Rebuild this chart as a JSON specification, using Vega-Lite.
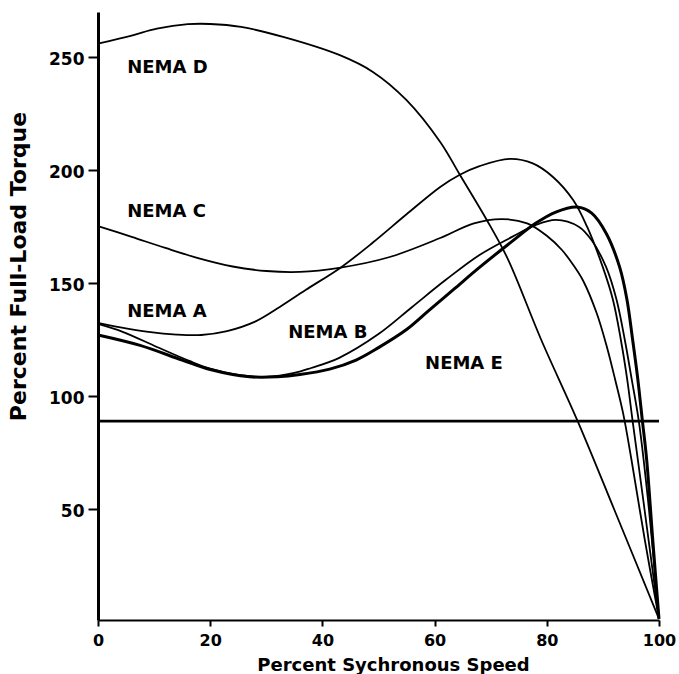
{
  "$schema": "https://vega.github.io/schema/vega-lite/v6.json",
  "width": 561,
  "height": 608,
  "autosize": {"type": "none"},
  "padding": {"left": 98, "top": 12, "right": 20, "bottom": 54},
  "background": "white",
  "config": {
    "view": {"stroke": null},
    "font": "DejaVu Sans",
    "axis": {"grid": false, "domainColor": "black", "tickColor": "black", "labelColor": "black", "titleColor": "black", "labelFont": "DejaVu Sans", "titleFont": "DejaVu Sans", "labelFontWeight": "bold", "titleFontWeight": "bold"}
  },
  "datasets": {
    "curves": [
      {"curve": "D", "speed": 0, "torque": 256},
      {"curve": "D", "speed": 6, "torque": 259.6},
      {"curve": "D", "speed": 10.5, "torque": 262.6},
      {"curve": "D", "speed": 16, "torque": 264.6},
      {"curve": "D", "speed": 20, "torque": 264.7},
      {"curve": "D", "speed": 25.5, "torque": 263.4},
      {"curve": "D", "speed": 33, "torque": 259},
      {"curve": "D", "speed": 43, "torque": 251},
      {"curve": "D", "speed": 49, "torque": 243.5},
      {"curve": "D", "speed": 55, "torque": 231},
      {"curve": "D", "speed": 61, "torque": 212.5},
      {"curve": "D", "speed": 64.5, "torque": 198},
      {"curve": "D", "speed": 69.3, "torque": 178},
      {"curve": "D", "speed": 73, "torque": 161},
      {"curve": "D", "speed": 79, "torque": 125},
      {"curve": "D", "speed": 85.5, "torque": 89},
      {"curve": "D", "speed": 92, "torque": 50},
      {"curve": "D", "speed": 100, "torque": 1.5},

      {"curve": "C", "speed": 0, "torque": 175.3},
      {"curve": "C", "speed": 6, "torque": 170.5},
      {"curve": "C", "speed": 12, "torque": 165.6},
      {"curve": "C", "speed": 18, "torque": 161},
      {"curve": "C", "speed": 24, "torque": 157.4},
      {"curve": "C", "speed": 30, "torque": 155.4},
      {"curve": "C", "speed": 36, "torque": 155},
      {"curve": "C", "speed": 43, "torque": 156.8},
      {"curve": "C", "speed": 52, "torque": 161.6},
      {"curve": "C", "speed": 61, "torque": 170},
      {"curve": "C", "speed": 67, "torque": 176.5},
      {"curve": "C", "speed": 72, "torque": 178.4},
      {"curve": "C", "speed": 76.5, "torque": 176.5},
      {"curve": "C", "speed": 80, "torque": 171},
      {"curve": "C", "speed": 82.7, "torque": 164.7},
      {"curve": "C", "speed": 84.6, "torque": 158.5},
      {"curve": "C", "speed": 86.5, "torque": 151},
      {"curve": "C", "speed": 88.9, "torque": 136.7},
      {"curve": "C", "speed": 90.7, "torque": 121.9},
      {"curve": "C", "speed": 92.2, "torque": 107.2},
      {"curve": "C", "speed": 93.6, "torque": 92.5},
      {"curve": "C", "speed": 95.1, "torque": 71.8},
      {"curve": "C", "speed": 97.5, "torque": 36},
      {"curve": "C", "speed": 100, "torque": 1.5},

      {"curve": "A", "speed": 0, "torque": 132.5},
      {"curve": "A", "speed": 4, "torque": 130.5},
      {"curve": "A", "speed": 9, "torque": 128.5},
      {"curve": "A", "speed": 14, "torque": 127.3},
      {"curve": "A", "speed": 18.4, "torque": 127.1},
      {"curve": "A", "speed": 23, "torque": 128.8},
      {"curve": "A", "speed": 28, "torque": 133},
      {"curve": "A", "speed": 32.4, "torque": 139.5},
      {"curve": "A", "speed": 37, "torque": 147},
      {"curve": "A", "speed": 43.3, "torque": 157},
      {"curve": "A", "speed": 49, "torque": 168},
      {"curve": "A", "speed": 55, "torque": 180.5},
      {"curve": "A", "speed": 61, "torque": 192.6},
      {"curve": "A", "speed": 64.5, "torque": 198},
      {"curve": "A", "speed": 68, "torque": 201.8},
      {"curve": "A", "speed": 73.4, "torque": 205},
      {"curve": "A", "speed": 77.5, "torque": 203},
      {"curve": "A", "speed": 81.1, "torque": 197},
      {"curve": "A", "speed": 84.7, "torque": 186.8},
      {"curve": "A", "speed": 87.2, "torque": 174.9},
      {"curve": "A", "speed": 90, "torque": 157},
      {"curve": "A", "speed": 91.8, "torque": 142.6},
      {"curve": "A", "speed": 93.2, "torque": 125},
      {"curve": "A", "speed": 94.3, "torque": 108},
      {"curve": "A", "speed": 95.3, "torque": 89},
      {"curve": "A", "speed": 97.2, "torque": 54},
      {"curve": "A", "speed": 100, "torque": 1.5},

      {"curve": "B", "speed": 0, "torque": 132},
      {"curve": "B", "speed": 4.5, "torque": 128.4},
      {"curve": "B", "speed": 10.5, "torque": 121.8},
      {"curve": "B", "speed": 16.4, "torque": 115.5},
      {"curve": "B", "speed": 20, "torque": 112.2},
      {"curve": "B", "speed": 25, "torque": 109.4},
      {"curve": "B", "speed": 30, "torque": 108.6},
      {"curve": "B", "speed": 35, "torque": 110.3},
      {"curve": "B", "speed": 38, "torque": 112.5},
      {"curve": "B", "speed": 43, "torque": 117},
      {"curve": "B", "speed": 50, "torque": 127.5},
      {"curve": "B", "speed": 56, "torque": 139.5},
      {"curve": "B", "speed": 62, "torque": 151.5},
      {"curve": "B", "speed": 68, "torque": 162.5},
      {"curve": "B", "speed": 73.8, "torque": 170.5},
      {"curve": "B", "speed": 77.9, "torque": 175.6},
      {"curve": "B", "speed": 81.6, "torque": 178},
      {"curve": "B", "speed": 85.7, "torque": 175},
      {"curve": "B", "speed": 88, "torque": 169},
      {"curve": "B", "speed": 90.6, "torque": 157},
      {"curve": "B", "speed": 92.4, "torque": 143},
      {"curve": "B", "speed": 93.9, "torque": 125},
      {"curve": "B", "speed": 95.1, "torque": 108},
      {"curve": "B", "speed": 96.4, "torque": 89},
      {"curve": "B", "speed": 98, "torque": 55},
      {"curve": "B", "speed": 100, "torque": 1.5},

      {"curve": "E", "speed": 0, "torque": 127.1},
      {"curve": "E", "speed": 7.5, "torque": 122.5},
      {"curve": "E", "speed": 15, "torque": 116},
      {"curve": "E", "speed": 20, "torque": 111.8},
      {"curve": "E", "speed": 27, "torque": 108.6},
      {"curve": "E", "speed": 32, "torque": 108.6},
      {"curve": "E", "speed": 36, "torque": 109.6},
      {"curve": "E", "speed": 41.3, "torque": 112},
      {"curve": "E", "speed": 46, "torque": 116},
      {"curve": "E", "speed": 50, "torque": 121.5},
      {"curve": "E", "speed": 55, "torque": 129.5},
      {"curve": "E", "speed": 59, "torque": 138},
      {"curve": "E", "speed": 63.5, "torque": 147.5},
      {"curve": "E", "speed": 68, "torque": 157},
      {"curve": "E", "speed": 73.8, "torque": 168.5},
      {"curve": "E", "speed": 78, "torque": 176.5},
      {"curve": "E", "speed": 81.6, "torque": 181.5},
      {"curve": "E", "speed": 85.4, "torque": 183.7},
      {"curve": "E", "speed": 88, "torque": 181},
      {"curve": "E", "speed": 90.6, "torque": 172},
      {"curve": "E", "speed": 93, "torque": 157},
      {"curve": "E", "speed": 94.3, "torque": 142.6},
      {"curve": "E", "speed": 95.3, "torque": 125},
      {"curve": "E", "speed": 96.2, "torque": 108},
      {"curve": "E", "speed": 97, "torque": 90},
      {"curve": "E", "speed": 97.8, "torque": 72},
      {"curve": "E", "speed": 98.9, "torque": 36},
      {"curve": "E", "speed": 100, "torque": 1.5},

      {"curve": "Ref", "speed": 0, "torque": 89},
      {"curve": "Ref", "speed": 100, "torque": 89}
    ],
    "labels": [
      {"label": "NEMA D", "speed": 5.2, "torque": 243},
      {"label": "NEMA C", "speed": 5.2, "torque": 179.3},
      {"label": "NEMA A", "speed": 5.2, "torque": 135},
      {"label": "NEMA B", "speed": 33.9, "torque": 125.8},
      {"label": "NEMA E", "speed": 58.3, "torque": 112}
    ]
  },
  "encoding": {
    "x": {
      "field": "speed", "type": "quantitative",
      "scale": {"domain": [0, 100], "nice": false, "zero": false},
      "axis": {
        "values": [0, 20, 40, 60, 80, 100],
        "title": "Percent Sychronous Speed",
        "domainWidth": 2, "tickWidth": 2, "tickSize": 6,
        "labelFontSize": 16, "labelPadding": 6, "labelFlush": false,
        "titleFontSize": 18, "titleX": 295, "titleY": 50,
        "titleBaseline": "alphabetic", "titleAlign": "center"
      }
    },
    "y": {
      "field": "torque", "type": "quantitative",
      "scale": {"domain": [1, 270], "nice": false, "zero": false},
      "axis": {
        "values": [50, 100, 150, 200, 250],
        "title": "Percent Full-Load Torque",
        "domainWidth": 3, "tickWidth": 2, "tickSize": 10,
        "labelFontSize": 17, "labelPadding": 4, "labelOffset": 2,
        "titleFontSize": 22, "titleX": -80, "titleY": 254,
        "titleAngle": 270, "titleBaseline": "middle", "titleAlign": "center"
      }
    }
  },
  "layer": [
    {
      "data": {"name": "curves"},
      "transform": [{"filter": "datum.curve !== 'E' && datum.curve !== 'Ref'"}],
      "mark": {"type": "line", "interpolate": "catmull-rom", "color": "black", "strokeWidth": 1.8},
      "encoding": {"detail": {"field": "curve", "type": "nominal"}}
    },
    {
      "data": {"name": "curves"},
      "transform": [{"filter": "datum.curve === 'E'"}],
      "mark": {"type": "line", "interpolate": "catmull-rom", "color": "black", "strokeWidth": 3}
    },
    {
      "data": {"name": "curves"},
      "transform": [{"filter": "datum.curve === 'Ref'"}],
      "mark": {"type": "line", "color": "black", "strokeWidth": 2.6}
    },
    {
      "data": {"name": "labels"},
      "mark": {"type": "text", "align": "left", "baseline": "alphabetic", "font": "DejaVu Sans", "fontWeight": "bold", "fontSize": 18, "color": "black"},
      "encoding": {"text": {"field": "label", "type": "nominal"}}
    }
  ]
}
